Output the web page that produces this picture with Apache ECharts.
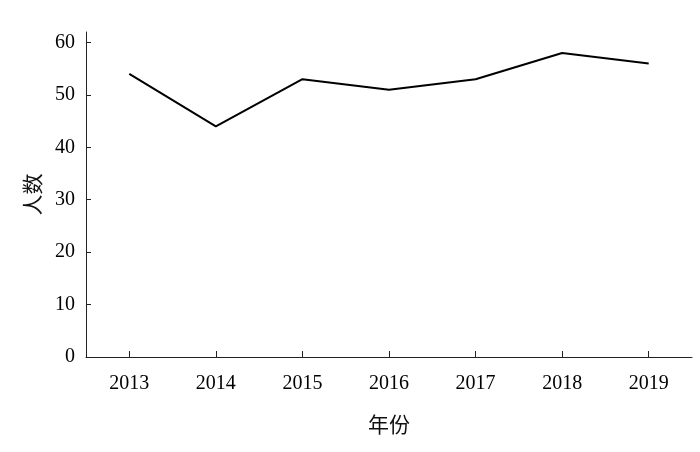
<!DOCTYPE html>
<html>
<head>
<meta charset="utf-8">
<script src="https://cdn.jsdelivr.net/npm/echarts@6/dist/echarts.min.js"></script>
<style>html,body{margin:0;padding:0;background:#fff;}#c{width:700px;height:452px;}</style>
</head>
<body>
<div id="c"></div>
<script>
const categories = ['2013', '2014', '2015', '2016', '2017', '2018', '2019'];
const values = [54, 44, 53, 51, 53, 58, 56];
const yTicks = [0, 10, 20, 30, 40, 50, 60];

const chart = echarts.init(document.getElementById('c'));
chart.setOption({
  animation: false,
  backgroundColor: '#fff',
  grid: { left: 86, right: 8, top: 32, bottom: 95 },
  xAxis: {
    type: 'category',
    data: categories,
    boundaryGap: true,
    name: '年份',
    nameLocation: 'middle',
    nameGap: 57,
    nameTextStyle: { fontFamily: 'Noto Sans CJK SC', fontSize: 21, color: '#111' },
    axisLine: { lineStyle: { color: '#222', width: 1 } },
    axisTick: { show: true, alignWithLabel: true, inside: true, length: 6, lineStyle: { color: '#222', width: 1 } },
    axisLabel: { fontFamily: 'Liberation Serif', fontSize: 20, color: '#000', margin: 17 }
  },
  yAxis: {
    type: 'value',
    min: 0,
    max: 62,
    interval: 10,
    name: '人数',
    nameLocation: 'middle',
    nameGap: 43,
    nameTextStyle: { fontFamily: 'Noto Sans CJK SC', fontSize: 21, color: '#111' },
    splitLine: { show: false },
    axisLine: { show: true, lineStyle: { color: '#222', width: 1 } },
    axisTick: { show: true, inside: true, length: 5, customValues: yTicks, lineStyle: { color: '#222' } },
    axisLabel: { fontFamily: 'Liberation Serif', fontSize: 20, color: '#000', margin: 11, customValues: yTicks }
  },
  series: [{
    type: 'line',
    data: values,
    showSymbol: false,
    symbol: 'none',
    lineStyle: { color: '#000', width: 2 }
  }]
});
</script>
</body>
</html>
